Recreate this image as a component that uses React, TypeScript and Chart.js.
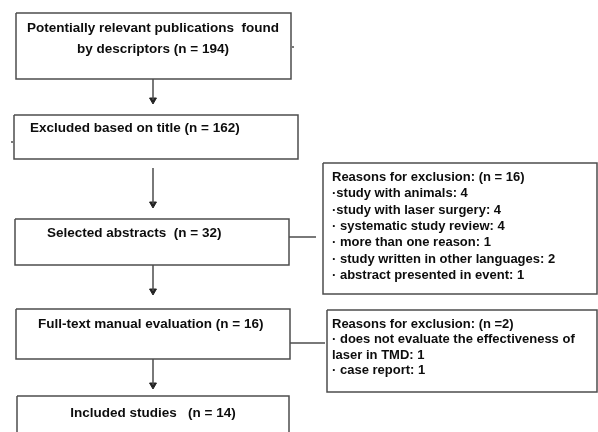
import React, { useEffect, useRef } from "react";
import { Chart, registerables } from "chart.js";

Chart.register(...registerables);

// ---- content (data) ----
const mainSteps: string[][] = [
  ["Potentially relevant publications  found", "by descriptors (n = 194)"],
  ["Excluded based on title (n = 162)"],
  ["Selected abstracts  (n = 32)"],
  ["Full-text manual evaluation (n = 16)"],
  ["Included studies   (n = 14)"],
];
const abstractExclusionTitle = "Reasons for exclusion: (n = 16)";
const abstractExclusionReasons = [
  "·study with animals",
  "·study with laser surgery",
  "· systematic study review",
  "· more than one reason",
  "· study written in other languages",
  "· abstract presented in event",
];
const abstractExclusionCounts = [4, 4, 4, 1, 2, 1];
const fullTextExclusionTitle = "Reasons for exclusion: (n =2)";
const fullTextExclusionLines = [
  "· does not evaluate the effectiveness of",
  "laser in TMD: 1",
  "· case report: 1",
];

// ---- layout (chart coordinates, 1 unit = 1 px) ----
const W = 598;
const H = 432;
// [left, top, right, bottom]
const boxRects: number[][] = [
  [16, 13, 291, 79],
  [14, 115, 298, 159],
  [15, 219, 289, 265],
  [16, 309, 290, 359],
  [17, 396, 289, 445],
  [323, 163, 597, 294],
  [327, 310, 597, 392],
];
// text placement per box: align, x, first baseline, line height, font size
const textLayout = [
  { align: "center", x: 153, y: 32, lh: 21, size: 13.5 },
  { align: "left", x: 30, y: 132, lh: 16, size: 13.5 },
  { align: "left", x: 47, y: 237, lh: 16, size: 13.5 },
  { align: "left", x: 38, y: 328, lh: 16, size: 13.5 },
  { align: "center", x: 153, y: 417, lh: 16, size: 13.5 },
  { align: "left", x: 332, y: 181, lh: 16.3, size: 13 },
  { align: "left", x: 332, y: 328, lh: 15.3, size: 13 },
];
// vertical arrows: [x, yStart, yTip]
const arrows: number[][] = [
  [153, 79, 104],
  [153, 168, 208],
  [153, 265, 295],
  [153, 359, 389],
];
// horizontal connectors: [xStart, xEnd, y]
const connectors: number[][] = [
  [289, 316, 237],
  [290, 325, 343],
];
// tiny stray marks in the source
const strayMarks: number[][] = [
  [292, 294, 47],
  [11, 13, 142],
];

const LINE = "#4d4d4d";
const TEXT = "#0d0d0d";
const HEAD_R = 4;

export default function App() {
  const ref = useRef<HTMLCanvasElement | null>(null);

  useEffect(() => {
    const canvas = ref.current;
    if (!canvas) return;

    const boxTexts: string[][] = [
      ...mainSteps,
      [
        abstractExclusionTitle,
        ...abstractExclusionReasons.map((r, i) => `${r}: ${abstractExclusionCounts[i]}`),
      ],
      [fullTextExclusionTitle, ...fullTextExclusionLines],
    ];

    const datasets: any[] = [];
    boxRects.forEach(([l, t, r, b]) => {
      datasets.push({
        data: [
          { x: l, y: t },
          { x: r, y: t },
          { x: r, y: b },
          { x: l, y: b },
          { x: l, y: t },
        ],
        showLine: true,
        borderColor: LINE,
        borderWidth: 1.5,
        pointRadius: 0,
        fill: false,
      });
    });
    arrows.forEach(([x, y0, y1]) => {
      datasets.push({
        data: [
          { x, y: y0 },
          { x, y: y1 - HEAD_R },
        ],
        showLine: true,
        borderColor: LINE,
        borderWidth: 1.5,
        pointRadius: 0,
      });
      datasets.push({
        data: [{ x, y: y1 - HEAD_R }],
        showLine: false,
        pointStyle: "triangle",
        rotation: 180,
        pointRadius: HEAD_R,
        backgroundColor: "#222",
        borderColor: "#222",
        borderWidth: 1,
      });
    });
    [...connectors, ...strayMarks].forEach(([x0, x1, y]) => {
      datasets.push({
        data: [
          { x: x0, y },
          { x: x1, y },
        ],
        showLine: true,
        borderColor: LINE,
        borderWidth: 1.5,
        pointRadius: 0,
      });
    });

    const textPlugin = {
      id: "flowText",
      afterDatasetsDraw(chart: any) {
        const { ctx, scales } = chart;
        const xs = scales.x;
        const ys = scales.y;
        ctx.save();
        ctx.fillStyle = TEXT;
        ctx.textBaseline = "alphabetic";
        boxTexts.forEach((lines, i) => {
          const lay = textLayout[i];
          ctx.font = `bold ${lay.size}px 'Liberation Sans', Arial, sans-serif`;
          ctx.textAlign = lay.align as CanvasTextAlign;
          lines.forEach((line, j) => {
            ctx.fillText(
              line,
              xs.getPixelForValue(lay.x),
              ys.getPixelForValue(lay.y + j * lay.lh)
            );
          });
        });
        ctx.restore();
      },
    };

    const chart = new Chart(canvas, {
      type: "scatter",
      data: { datasets },
      options: {
        animation: false,
        responsive: false,
        devicePixelRatio: 1,
        events: [],
        layout: { padding: 0, autoPadding: false },
        elements: { line: { tension: 0 } },
        scales: {
          x: { type: "linear", min: 0, max: W, display: false },
          y: { type: "linear", min: 0, max: H, reverse: true, display: false },
        },
        plugins: {
          legend: { display: false },
          tooltip: { enabled: false },
        },
      },
      plugins: [textPlugin],
    });

    return () => chart.destroy();
  }, []);

  return (
    <div style={{ position: "fixed", left: 0, top: 0, width: W, height: H, background: "#fff" }}>
      <canvas ref={ref} width={W} height={H} style={{ display: "block" }} />
    </div>
  );
}
